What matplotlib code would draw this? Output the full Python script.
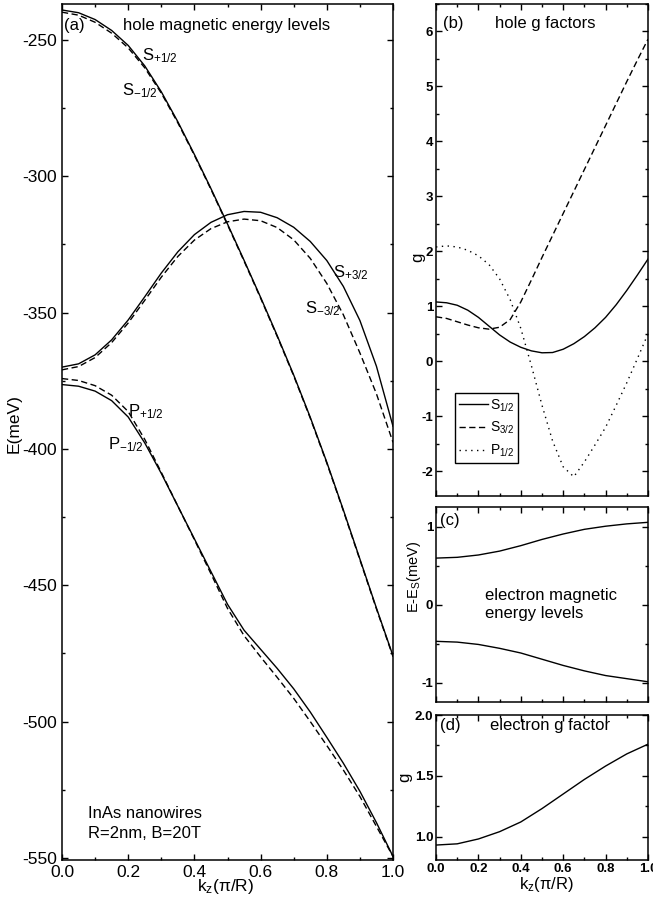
import matplotlib
matplotlib.use("Agg")
import matplotlib.pyplot as plt
from matplotlib.ticker import MultipleLocator, FormatStrFormatter

plt.rcParams['font.family'] = ['Liberation Sans', 'DejaVu Sans']
plt.rcParams['mathtext.fontset'] = 'custom'
plt.rcParams['mathtext.rm'] = 'Liberation Sans'
plt.rcParams['mathtext.it'] = 'Liberation Sans:italic'
plt.rcParams['mathtext.bf'] = 'Liberation Sans:bold'
plt.rcParams['axes.unicode_minus'] = False

# ---------------- data ----------------
k_a = [0.00, 0.05, 0.10, 0.15, 0.20, 0.25, 0.30, 0.35, 0.40, 0.45, 0.50,
       0.55, 0.60, 0.65, 0.70, 0.75, 0.80, 0.85, 0.90, 0.95, 1.00]

E_S_p12 = [-239.0, -240.0, -242.5, -246.5, -252.0, -259.5, -269.0, -280.0, -292.0, -304.5, -317.5,
           -330.8, -344.4, -358.4, -372.9, -388.4, -404.9, -422.4, -440.4, -458.4, -475.9]
E_S_m12 = [-239.8, -240.9, -243.5, -247.5, -252.9, -260.2, -269.5, -280.4, -292.3, -304.8, -317.8,
           -331.1, -344.7, -358.7, -373.2, -388.7, -405.2, -422.7, -440.7, -458.7, -476.2]
E_S_p32 = [-370.0, -368.8, -365.5, -360.0, -352.7, -344.2, -335.5, -327.7, -321.4, -316.9, -314.1,
           -312.9, -313.2, -315.2, -318.7, -323.9, -330.9, -340.4, -352.9, -369.7, -391.7]
E_S_m32 = [-371.0, -369.8, -366.5, -361.0, -353.8, -345.5, -337.0, -329.4, -323.4, -319.2, -316.7,
           -315.7, -316.3, -318.8, -323.3, -330.1, -339.3, -350.8, -364.8, -379.8, -397.6]
E_P_m12 = [-376.4, -377.0, -378.8, -382.3, -388.3, -397.8, -409.0, -421.0, -433.0, -445.0, -457.0,
           -466.5, -473.5, -480.5, -488.0, -496.5, -505.8, -515.3, -525.6, -537.1, -549.5]
E_P_p12 = [-374.2, -374.9, -376.8, -380.3, -386.3, -396.5, -408.6, -421.0, -433.3, -445.8, -458.5,
           -468.5, -476.3, -483.8, -491.5, -500.0, -508.8, -517.8, -527.5, -538.5, -549.5]

g_S12 = [1.08, 1.065, 1.02, 0.93, 0.80, 0.64, 0.48, 0.35, 0.255, 0.19, 0.155,
         0.16, 0.22, 0.32, 0.45, 0.61, 0.80, 1.03, 1.29, 1.57, 1.86]
g_S32 = [0.81, 0.78, 0.72, 0.66, 0.61, 0.585, 0.62, 0.76, 1.08, 1.48, 1.89,
         2.29, 2.69, 3.09, 3.49, 3.89, 4.29, 4.69, 5.09, 5.48, 5.86]
g_P12 = [2.08, 2.10, 2.08, 2.02, 1.92, 1.76, 1.50, 1.12, 0.60, -0.08, -0.80,
         -1.45, -1.92, -2.10, -1.83, -1.52, -1.20, -0.80, -0.39, 0.05, 0.50]

k_e = [0.0, 0.1, 0.2, 0.3, 0.4, 0.5, 0.6, 0.7, 0.8, 0.9, 1.0]
dE_up = [0.60, 0.61, 0.64, 0.69, 0.76, 0.84, 0.91, 0.97, 1.01, 1.04, 1.06]
dE_dn = [-0.47, -0.48, -0.51, -0.56, -0.62, -0.70, -0.78, -0.85, -0.91, -0.95, -0.99]
g_e = [0.93, 0.94, 0.98, 1.04, 1.12, 1.23, 1.35, 1.47, 1.58, 1.68, 1.76]

# ---------------- figure ----------------
W, H = 653, 901
fig = plt.figure(figsize=(W / 100, H / 100), dpi=100)

def ax_px(l, t, r, b):
    return fig.add_axes([l / W, 1 - b / H, (r - l) / W, (b - t) / H])

ax_a = ax_px(62, 4, 393, 860)
ax_b = ax_px(436, 4, 648, 496)
ax_c = ax_px(436, 507, 648, 702)
ax_d = ax_px(436, 715, 648, 860)

LW = 1.0
dash = (0, (4.5, 2.5))
dot = (0, (1, 3.2))

def style(ax, labelsize, pad):
    for s in ax.spines.values():
        s.set_linewidth(1.1)
    ax.tick_params(which='both', direction='in', top=True, right=True, width=1.0)
    ax.tick_params(which='major', length=4.5, labelsize=labelsize, pad=pad)
    ax.tick_params(which='minor', length=2.5)
    ax.set_xlim(0, 1)
    ax.xaxis.set_major_locator(MultipleLocator(0.2))
    ax.xaxis.set_minor_locator(MultipleLocator(0.1))
    ax.xaxis.set_major_formatter(FormatStrFormatter('%.1f'))

# ----- panel (a) -----
ax_a.plot(k_a, E_S_p12, 'k-', lw=LW)
ax_a.plot(k_a, E_S_m12, 'k', ls=dash, lw=LW)
ax_a.plot(k_a, E_S_p32, 'k-', lw=LW)
ax_a.plot(k_a, E_S_m32, 'k', ls=dash, lw=LW)
ax_a.plot(k_a, E_P_m12, 'k-', lw=LW)
ax_a.plot(k_a, E_P_p12, 'k', ls=dash, lw=LW)
ax_a.set_ylim(-550.8, -236.8)
ax_a.yaxis.set_major_locator(MultipleLocator(50))
ax_a.yaxis.set_minor_locator(MultipleLocator(25))
style(ax_a, 12.5, 3.5)

fs = 12
ax_a.text(0.006, 0.970, '(a)', transform=ax_a.transAxes, fontsize=fs, va='baseline')
ax_a.text(0.184, 0.970, 'hole magnetic energy levels', transform=ax_a.transAxes, fontsize=fs, va='baseline')
ax_a.text(0.242, -257.3, r'S$_{\mathrm{+1/2}}$', fontsize=fs, va='baseline')
ax_a.text(0.181, -270.2, r'S$_{\mathrm{-1/2}}$', fontsize=fs, va='baseline')
ax_a.text(0.819, -336.9, r'S$_{\mathrm{+3/2}}$', fontsize=fs, va='baseline')
ax_a.text(0.734, -350.1, r'S$_{\mathrm{-3/2}}$', fontsize=fs, va='baseline')
ax_a.text(0.199, -387.9, r'P$_{\mathrm{+1/2}}$', fontsize=fs, va='baseline')
ax_a.text(0.139, -400.3, r'P$_{\mathrm{-1/2}}$', fontsize=fs, va='baseline')
ax_a.text(0.079, 0.049, 'InAs nanowires', transform=ax_a.transAxes, fontsize=fs, va='baseline')
ax_a.text(0.079, 0.0257, 'R=2nm, B=20T', transform=ax_a.transAxes, fontsize=fs, va='baseline')

fig.text(14 / W, 1 - 424 / H, 'E(meV)', rotation=90, ha='center', va='center', fontsize=12.5)
fig.text(226 / W, 1 - 887 / H, r'k$_{\mathrm{z}}$(π/R)', ha='center', va='center', fontsize=12.5)

# ----- panel (b) -----
lb1, = ax_b.plot(k_a, g_S12, 'k-', lw=LW, label=r'S$_{\mathrm{1/2}}$')
lb2, = ax_b.plot(k_a, g_S32, 'k', ls=dash, lw=LW, label=r'S$_{\mathrm{3/2}}$')
lb3, = ax_b.plot(k_a, g_P12, 'k', ls=dot, lw=LW, label=r'P$_{\mathrm{1/2}}$')
ax_b.set_ylim(-2.45, 6.5)
ax_b.yaxis.set_major_locator(MultipleLocator(1))
ax_b.yaxis.set_minor_locator(MultipleLocator(0.5))
ax_b.yaxis.set_major_formatter(FormatStrFormatter('%d'))
style(ax_b, 9.5, 2.0)
ax_b.set_xticklabels([])
leg = ax_b.legend(handles=[lb1, lb2, lb3], loc='lower left', bbox_to_anchor=(0.09, 0.067),
                  borderaxespad=0, fancybox=False, edgecolor='black', framealpha=1,
                  fontsize=10, handlelength=2.1, handletextpad=0.1, labelspacing=0.45,
                  borderpad=0.3)
leg.get_frame().set_linewidth(1.0)
ax_b.text(0.033, 0.951, '(b)', transform=ax_b.transAxes, fontsize=fs, va='baseline')
ax_b.text(0.278, 0.951, 'hole g factors', transform=ax_b.transAxes, fontsize=fs, va='baseline')
fig.text(418 / W, 1 - 257 / H, 'g', rotation=90, ha='center', va='center', fontsize=12)

# ----- panel (c) -----
ax_c.plot(k_e, dE_up, 'k-', lw=LW)
ax_c.plot(k_e, dE_dn, 'k-', lw=LW)
ax_c.set_ylim(-1.25, 1.257)
ax_c.yaxis.set_major_locator(MultipleLocator(1))
ax_c.yaxis.set_minor_locator(MultipleLocator(0.5))
ax_c.yaxis.set_major_formatter(FormatStrFormatter('%d'))
style(ax_c, 9.5, 2.0)
ax_c.set_xticklabels([])
ax_c.text(0.02, 0.908, '(c)', transform=ax_c.transAxes, fontsize=fs, va='baseline')
ax_c.text(0.231, 0.523, 'electron magnetic', transform=ax_c.transAxes, fontsize=fs, va='baseline')
ax_c.text(0.231, 0.431, 'energy levels', transform=ax_c.transAxes, fontsize=fs, va='baseline')
fig.text(414 / W, 1 - 577 / H, r'E-E$_{\mathrm{S}}$(meV)', rotation=90, ha='center', va='center', fontsize=10.5)

# ----- panel (d) -----
ax_d.plot(k_e, g_e, 'k-', lw=LW)
ax_d.set_ylim(0.807, 2.0)
ax_d.yaxis.set_major_locator(MultipleLocator(0.5))
ax_d.yaxis.set_minor_locator(MultipleLocator(0.25))
ax_d.yaxis.set_major_formatter(FormatStrFormatter('%.1f'))
style(ax_d, 9.5, 2.0)
ax_d.text(0.02, 0.897, '(d)', transform=ax_d.transAxes, fontsize=fs, va='baseline')
ax_d.text(0.255, 0.897, 'electron g factor', transform=ax_d.transAxes, fontsize=fs, va='baseline')
fig.text(405 / W, 1 - 777 / H, 'g', rotation=90, ha='center', va='center', fontsize=12)
fig.text(546 / W, 1 - 885 / H, r'k$_{\mathrm{z}}$(π/R)', ha='center', va='center', fontsize=12)

for ax in (ax_b, ax_c, ax_d):
    for lab in ax.get_xticklabels() + ax.get_yticklabels():
        lab.set_fontweight('bold')

fig.savefig('out.png', dpi=100)
